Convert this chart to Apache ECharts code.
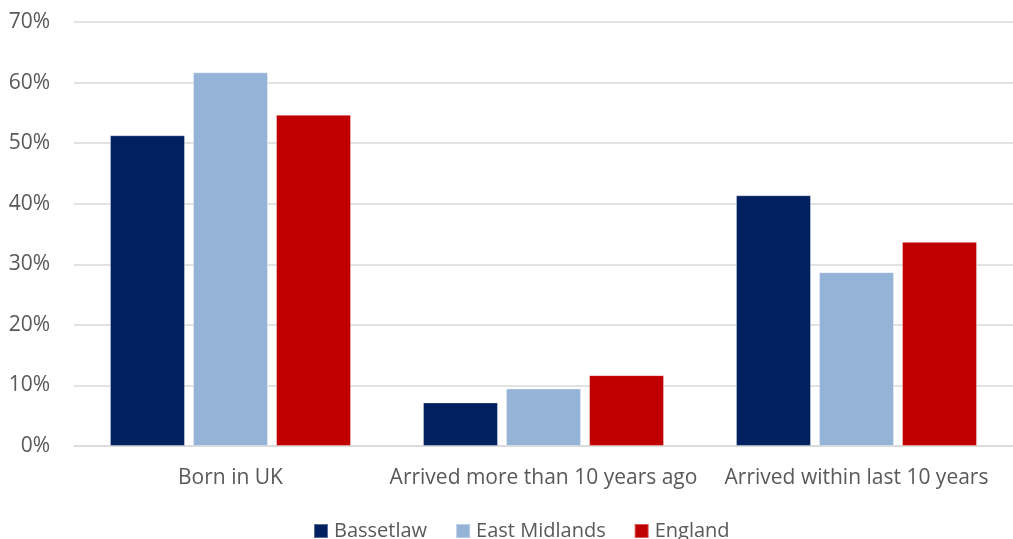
<!DOCTYPE html>
<html>
<head>
<meta charset="utf-8">
<script src="https://cdn.jsdelivr.net/npm/echarts@6/dist/echarts.min.js"></script>
<style>
  html, body { margin: 0; padding: 0; background: #ffffff; }
  #chart { width: 1013px; height: 539px; }
</style>
</head>
<body>
<div id="chart"></div>
<script>
// Country of birth / time since arrival, share of residents (%)
const categories = ['Born in UK', 'Arrived more than 10 years ago', 'Arrived within last 10 years'];
const seriesNames = ['Bassetlaw', 'East Midlands', 'England'];
const bassetlaw = [51.3, 7.2, 41.4];
const eastMidlands = [61.7, 9.5, 28.7];
const england = [54.7, 11.7, 33.7];
const yTicks = [0, 10, 20, 30, 40, 50, 60, 70];

const colors = ['#002060', '#95b3d7', '#c00000'];
const values = [bassetlaw, eastMidlands, england];
const font = '"Open Sans", "Liberation Sans", sans-serif';

const chart = echarts.init(document.getElementById('chart'), null, { renderer: 'canvas' });

chart.setOption({
  animation: false,
  backgroundColor: '#ffffff',
  grid: { left: 74, top: 22, width: 946, height: 424, containLabel: false },
  legend: {
    top: 521,
    left: 313,
    padding: 0,
    itemWidth: 14,
    itemHeight: 14,
    itemGap: 28,
    icon: 'rect',
    textStyle: { color: '#595959', fontSize: 20, fontFamily: font, padding: [0, 0, 0, 1] },
    data: seriesNames
  },
  xAxis: {
    type: 'category',
    data: categories,
    axisTick: { show: false },
    axisLine: { show: true, lineStyle: { color: '#d9d9d9', width: 1.5 } },
    axisLabel: { color: '#595959', fontSize: 21, fontFamily: font, margin: 22, interval: 0 }
  },
  yAxis: {
    type: 'value',
    min: yTicks[0],
    max: yTicks[yTicks.length - 1],
    interval: 10,
    axisLine: { show: false },
    axisTick: { show: false },
    splitLine: { lineStyle: { color: '#d9d9d9', width: 1.5 } },
    axisLabel: {
      color: '#595959', fontSize: 21, fontFamily: font, margin: 24,
      formatter: v => v + '%'
    }
  },
  series: seriesNames.map((name, i) => ({
    name: name,
    type: 'bar',
    data: values[i],
    barWidth: 75,
    barGap: '10.7%',
    itemStyle: { color: colors[i], borderColor: 'rgba(255,255,255,0.35)', borderWidth: 1 }
  }))
});
</script>
</body>
</html>
